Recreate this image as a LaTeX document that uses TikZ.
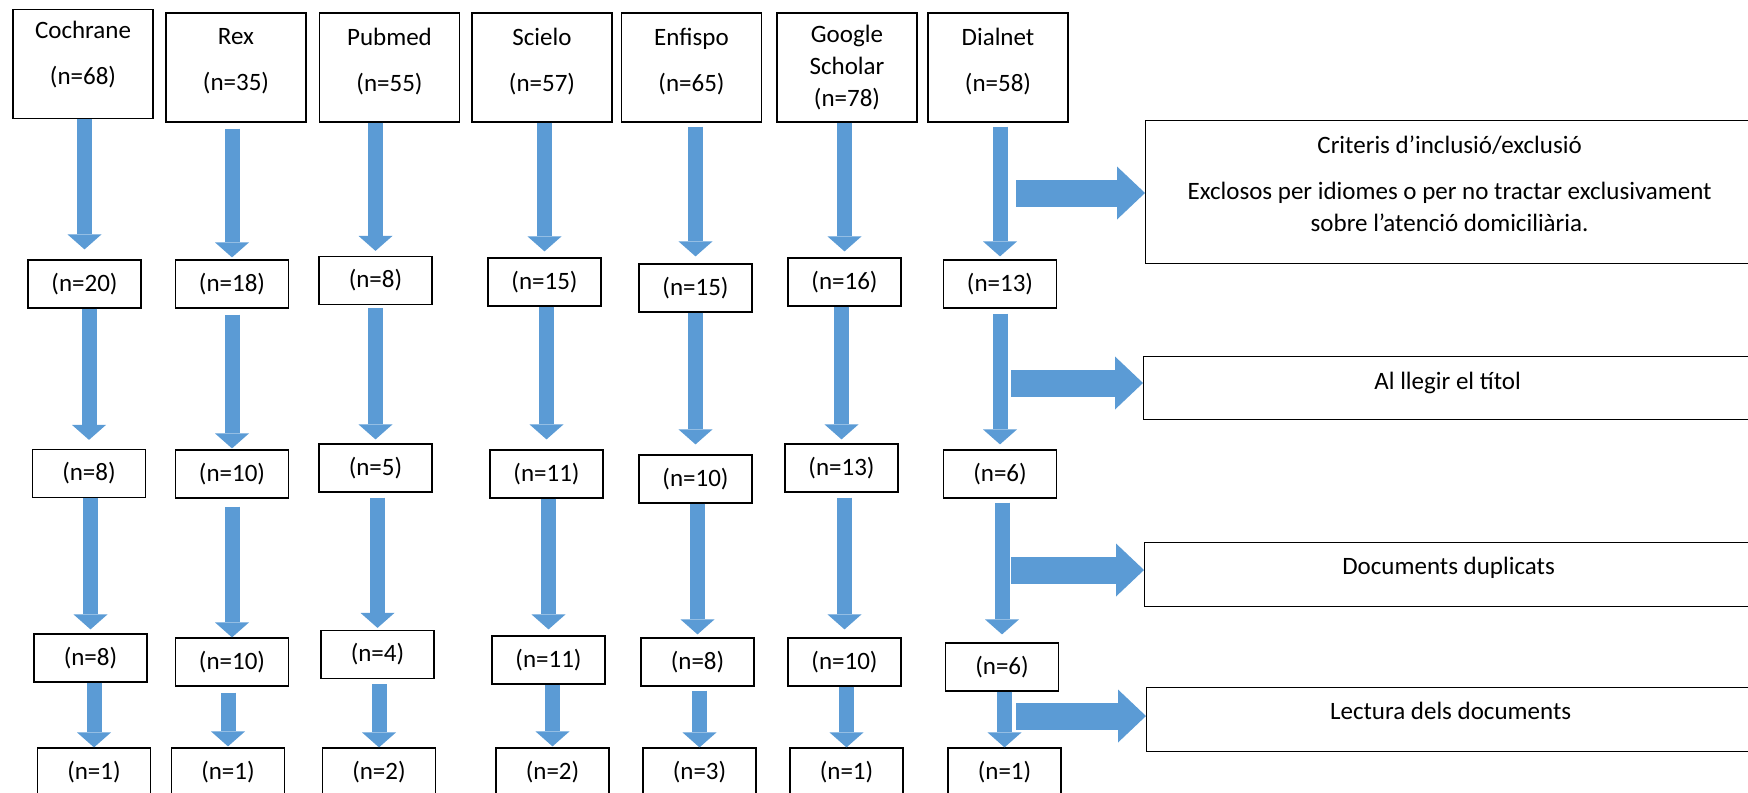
\documentclass[tikz,border=0pt]{standalone}
\usepackage{fontspec}
\setmainfont{Carlito}
\usetikzlibrary{arrows.meta}
\definecolor{BLUEFILL}{HTML}{5B9BD5}
\tikzset{
SRCBOX/.style={draw=black, line width=0.6pt, minimum width=70pt, minimum height=54.5pt, align=center},
BOX/.style={draw=black, line width=0.6pt, minimum width=56.5pt, minimum height=24pt},
SIDEBOX/.style={draw=black, line width=0.6pt, minimum width=304pt, anchor=north west, align=center},
LIFT/.style={execute at end node={\rule[-#1]{0pt}{0pt}}},
FLOW/.style={draw=BLUEFILL, line width=7.5pt, -{Triangle[width=17pt,length=7.5pt,line width=0pt]}},
SIDEFLOW/.style={draw=BLUEFILL, line width=13.5pt, -{Triangle[width=26.5pt,length=14pt,line width=0pt]}},
}

\begin{document}
\begin{tikzpicture}
[x=0.5pt, y=-0.5pt, font=\fontsize{12.5}{16}\selectfont]
	\clip (0,0) rectangle (1748,792);
	% databases
	\node[SRCBOX, LIFT=11pt] (c1) at (83,64) {Cochrane\\[7pt](n=68)};
	\node[SRCBOX, LIFT=8pt] (r1) at (236,67.5) {Rex\\[7pt](n=35)};
	\node[SRCBOX, LIFT=8pt] (p1) at (389.5,67.5) {Pubmed\\[7pt](n=55)};
	\node[SRCBOX, LIFT=8pt] (s1) at (542,67.5) {Scielo\\[7pt](n=57)};
	\node[SRCBOX, LIFT=8pt] (e1) at (691.5,67.5) {Enfispo\\[7pt](n=65)};
	\node[SRCBOX, LIFT=2pt] (g1) at (847,67.5) {Google\\Scholar\\(n=78)};
	\node[SRCBOX, LIFT=8pt] (d1) at (998,67.5) {Dialnet\\[7pt](n=58)};
	% after criteria
	\node[BOX] (c2) at (84.5,284) {(n=20)};
	\node[BOX] (r2) at (232,284) {(n=18)};
	\node[BOX] (p2) at (375.5,280.5) {(n=8)};
	\node[BOX] (s2) at (544.5,282) {(n=15)};
	\node[BOX] (e2) at (695.5,288) {(n=15)};
	\node[BOX] (g2) at (844.5,282) {(n=16)};
	\node[BOX] (d2) at (1000,284) {(n=13)};
	% after title
	\node[BOX] (c3) at (89,473.5) {(n=8)};
	\node[BOX] (r3) at (232,474) {(n=10)};
	\node[BOX] (p3) at (375.5,468) {(n=5)};
	\node[BOX] (s3) at (546.5,474) {(n=11)};
	\node[BOX] (e3) at (695.5,479) {(n=10)};
	\node[BOX] (g3) at (841.5,468) {(n=13)};
	\node[BOX] (d3) at (1000,474) {(n=6)};
	% after duplicates
	\node[BOX] (c4) at (90.5,658) {(n=8)};
	\node[BOX] (r4) at (232,662) {(n=10)};
	\node[BOX] (p4) at (377.5,654.5) {(n=4)};
	\node[BOX] (s4) at (548.5,660) {(n=11)};
	\node[BOX] (e4) at (697.5,662) {(n=8)};
	\node[BOX] (g4) at (844.5,662) {(n=10)};
	\node[BOX] (d4) at (1002,667) {(n=6)};
	% after reading
	\node[BOX] (c5) at (94,772) {(n=1)};
	\node[BOX] (r5) at (228,772) {(n=1)};
	\node[BOX] (p5) at (379,772) {(n=2)};
	\node[BOX] (s5) at (552.5,772) {(n=2)};
	\node[BOX] (e5) at (699.5,772) {(n=3)};
	\node[BOX] (g5) at (846.5,772) {(n=1)};
	\node[BOX] (d5) at (1004.5,772) {(n=1)};
	% steps
	\node[SIDEBOX, minimum height=71.5pt, LIFT=8.5pt] (k1) at (1145,120) {Criteris d’inclusió/exclusió\\[7pt]Exclosos per idiomes o per no tractar exclusivament\\sobre l’atenció domiciliària.};
	\node[SIDEBOX, minimum height=31.5pt, LIFT=7pt] (k2) at (1143,356) {Al llegir el títol};
	\node[SIDEBOX, minimum height=32pt, LIFT=8.5pt] (k3) at (1144,542) {Documents duplicats};
	\node[SIDEBOX, minimum height=32pt, LIFT=9pt] (k4) at (1146,687) {Lectura dels documents};
	\foreach \src/\dst/\sg/\eg in {c1/c2/0/5, r1/r2/3/1, p1/p2/0/2.5, s1/s2/0/3, e1/e2/2/3.5, g1/g2/0/3, d1/d2/2/1.5,
		c2/c3/0/4.5, r2/r3/3/0.5, p2/p3/1.5/2, s2/s3/0/5, e2/e3/0/5, g2/g3/0/2, d2/d3/2.5/2.5,
		c3/c4/0/2, r3/r4/4/0, p3/p4/2.5/1, s3/s4/0/3, e3/e4/0/1.5, g3/g4/2.5/4, d3/d4/2/4,
		c4/c5/0/0, r4/r5/3/0.5, p4/p5/2.5/0, s4/s5/0/0.5, e4/e5/2/0, g4/g5/0/0, d4/d5/0/0}
		\draw[FLOW, shorten <=\sg pt, shorten >=\eg pt] (\dst.north |- \src.south) -- (\dst.north);
	\coordinate (t1) at (1016,193);
	\coordinate (t2) at (1011,383);
	\coordinate (t3) at (1011,570);
	\coordinate (t4) at (1016,716);
	\foreach \tp/\kb in {t1/k1, t2/k2, t3/k3, t4/k4}
		\draw[SIDEFLOW] (\tp) -- (\tp -| \kb.west);
\end{tikzpicture}
\end{document}
